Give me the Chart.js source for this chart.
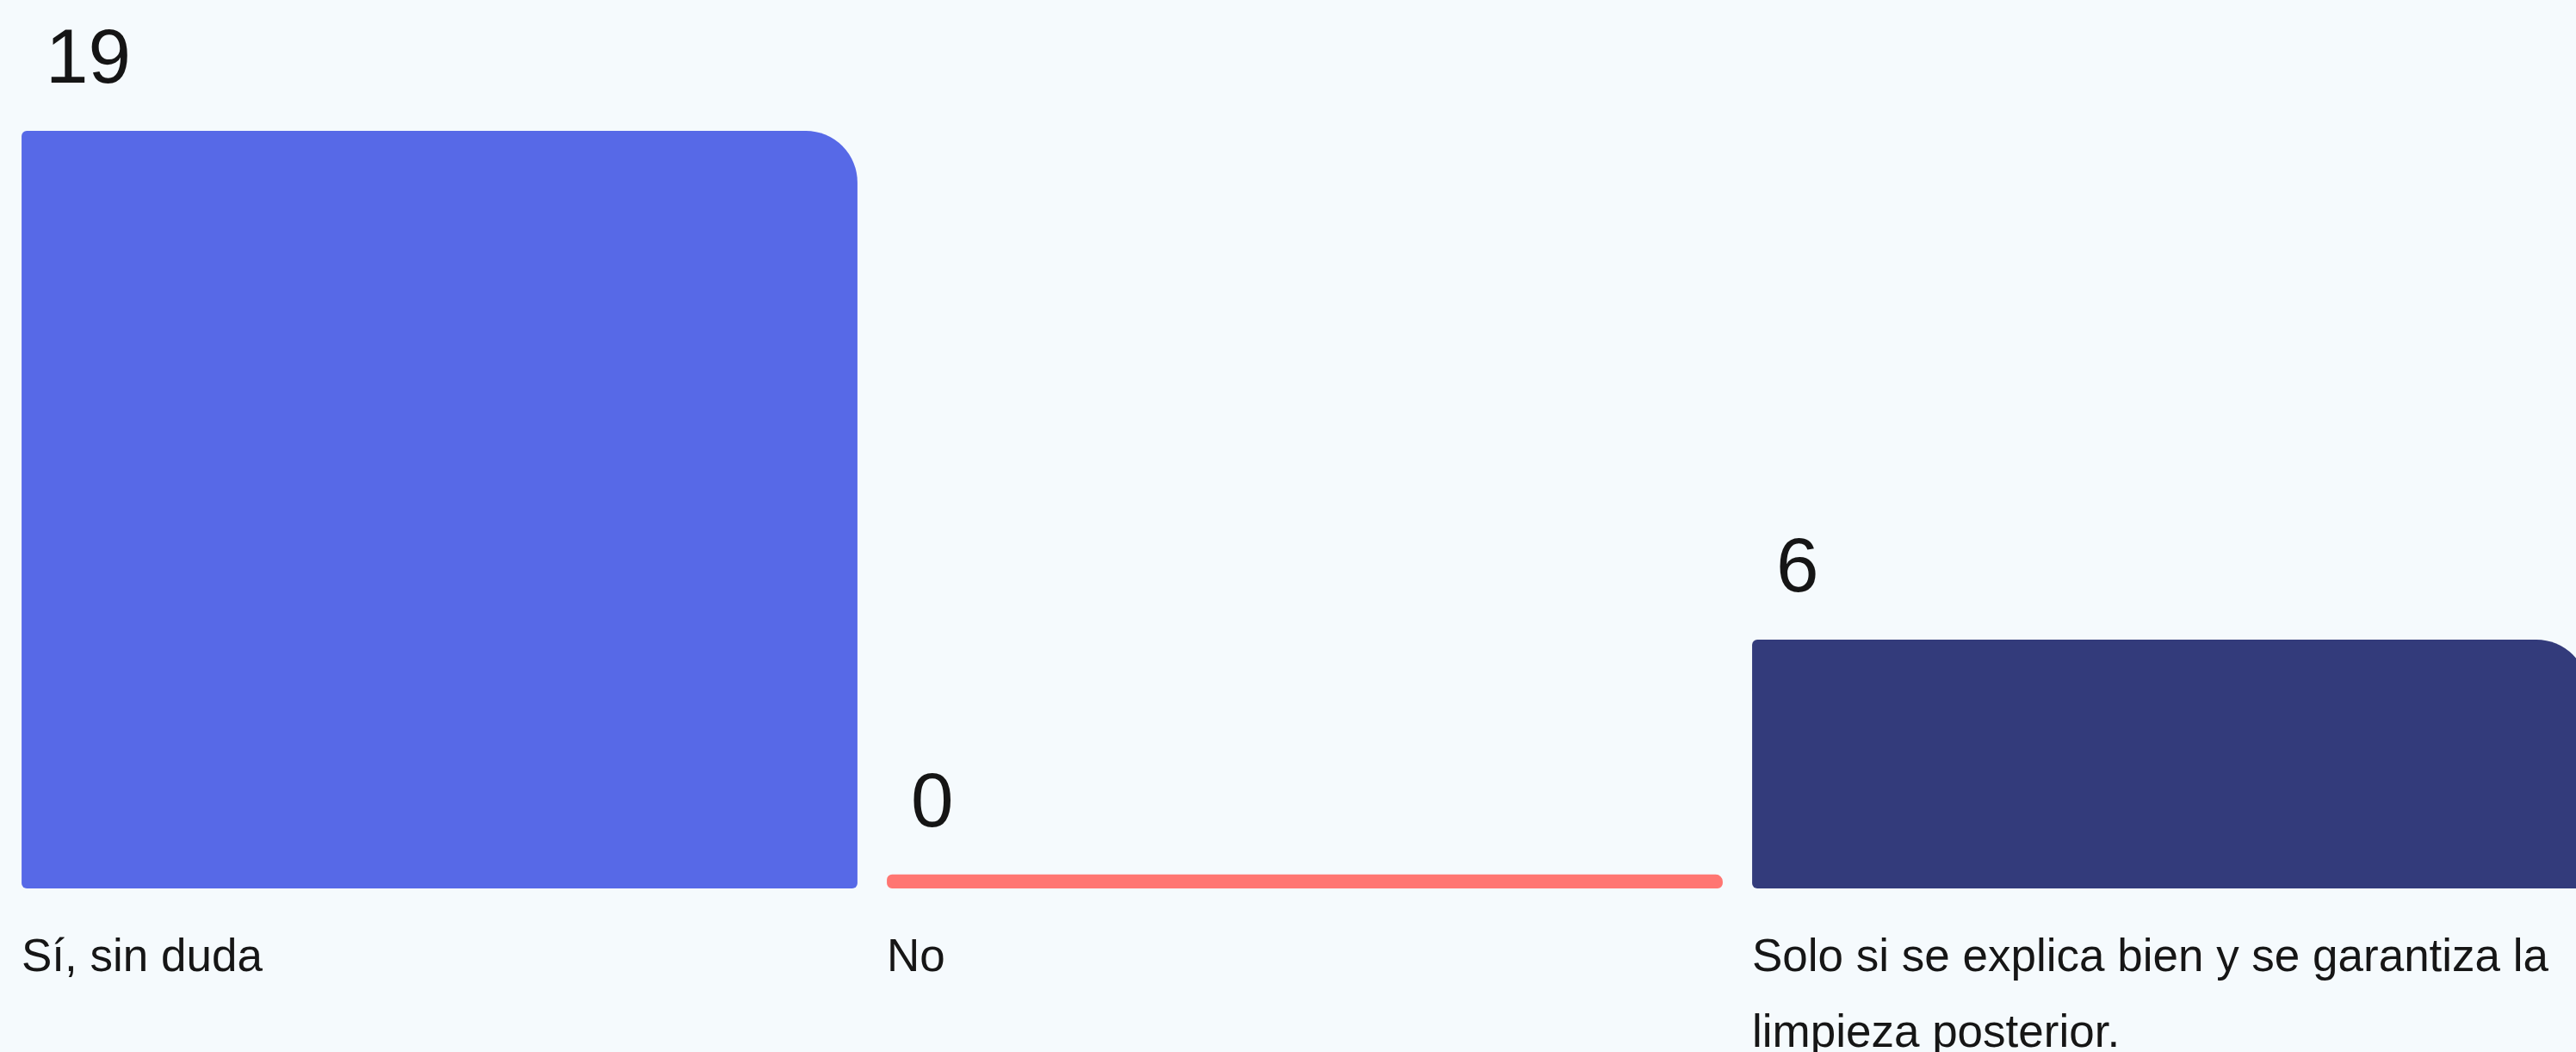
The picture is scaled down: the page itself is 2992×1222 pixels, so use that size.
<!DOCTYPE html>
<html>
<head>
<meta charset="utf-8">
<script src="https://cdn.jsdelivr.net/npm/chart.js@4"></script>
<style>
  html, body { margin: 0; padding: 0; background: #f5fafd; overflow: hidden; }
  #wrap { width: 3023px; height: 1222px; position: relative; }
</style>
</head>
<body>
<div id="wrap"><canvas id="answersChart"></canvas></div>
<script>
  // categories (long one split over two lines like the original)
  const categories = [
    'Sí, sin duda',
    'No',
    ['Solo si se explica bien y se garantiza la', 'limpieza posterior.']
  ];
  const answers = [19, 0, 6];
  const barColors = ['#5769e7', '#ff7672', '#333b7b'];

  // bars start a little under zero so a 0 still shows as a thin strip
  const axisMin = -0.357;
  const axisMax = 19;

  const valueLabels = {
    id: 'valueLabels',
    afterDatasetsDraw(chart) {
      const ctx = chart.ctx;
      const meta = chart.getDatasetMeta(0);
      ctx.save();
      ctx.font = '89px "Liberation Sans", Arial, sans-serif';
      ctx.fillStyle = '#151515';
      ctx.textAlign = 'left';
      ctx.textBaseline = 'alphabetic';
      meta.data.forEach((bar, i) => {
        const left = bar.x - bar.width / 2;
        ctx.fillText(String(answers[i]), left + 28, bar.y - 56);
      });
      ctx.restore();
    }
  };

  new Chart(document.getElementById('answersChart'), {
    type: 'bar',
    data: {
      labels: categories,
      datasets: [{
        label: 'Respuestas',
        data: answers,
        backgroundColor: barColors,
        base: axisMin,
        barPercentage: 0.966,
        categoryPercentage: 1,
        borderSkipped: false,
        borderRadius: { topLeft: 6, topRight: 60, bottomLeft: 6, bottomRight: 6 }
      }]
    },
    options: {
      responsive: true,
      maintainAspectRatio: false,
      animation: false,
      layout: { padding: { top: 152, left: 8, right: 0, bottom: 0 } },
      plugins: {
        legend: { display: false },
        tooltip: { enabled: false }
      },
      scales: {
        x: {
          grid: { display: false, drawTicks: false },
          border: { display: false },
          afterFit(scale) {
            scale.height = 190;
            scale.paddingLeft = 0;
            scale.paddingRight = 0;
          },
          ticks: {
            align: 'start',
            labelOffset: -485.5,
            padding: 37,
            autoSkip: false,
            maxRotation: 0,
            minRotation: 0,
            color: '#161616',
            font: { family: '"Liberation Sans", Arial, sans-serif', size: 53, lineHeight: 1.66 }
          }
        },
        y: {
          display: false,
          min: axisMin,
          max: axisMax
        }
      }
    },
    plugins: [valueLabels]
  });
</script>
</body>
</html>
